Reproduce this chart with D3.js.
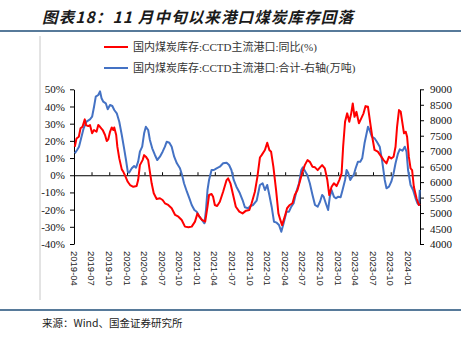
<!DOCTYPE html>
<html>
<head>
<meta charset="utf-8">
<title>港口煤炭库存</title>
<style>
    body { margin: 0; padding: 0; background: #fff; }
    svg { display: block; }
</style>
</head>
<body>
<div id="chart"></div>
<script src="https://d3js.org/d3.v7.min.js"></script>
<script>
// 国内煤炭库存:CCTD主流港口:同比(%)
const yoyData = [
    ["2019-04-05",16.6],["2019-04-14",21.4],["2019-04-26",22.4],["2019-05-05",27.3],["2019-05-15",28.2],
    ["2019-05-27",32.5],["2019-06-02",29.2],["2019-06-14",28.6],["2019-06-23",29.2],["2019-07-04",24.4],
    ["2019-07-14",26.3],["2019-07-27",25.3],["2019-08-05",29.2],["2019-08-14",28.2],["2019-08-28",26.3],
    ["2019-09-09",23.4],["2019-09-18",19.9],["2019-09-26",20.9],["2019-10-05",25.3],["2019-10-14",27.8],
    ["2019-10-22",26.3],["2019-10-27",27.8],["2019-11-06",23.4],["2019-11-12",16.6],["2019-11-22",9.8],
    ["2019-12-05",3.4],["2019-12-13",2.0],["2019-12-25",-0.9],["2020-01-05",-3.8],["2020-01-17",-5.7],
    ["2020-02-03",-6.7],["2020-02-20",-6.3],["2020-02-28",-2.8],["2020-03-08",5.9],["2020-03-22",8.8],
    ["2020-03-30",11.7],["2020-04-08",10.8],["2020-04-20",8.8],["2020-04-29",2.0],["2020-05-08",-4.7],
    ["2020-05-19",-10.5],["2020-06-03",-13.8],["2020-06-20",-13.4],["2020-07-04",-14.4],["2020-07-16",-16.3],
    ["2020-08-02",-17.3],["2020-08-20",-19.2],["2020-09-07",-23.1],["2020-09-24",-24.1],["2020-10-11",-26.0],
    ["2020-10-28",-29.9],["2020-11-15",-30.3],["2020-12-02",-29.9],["2020-12-19",-27.0],["2021-01-01",-22.2],
    ["2021-01-11",-24.1],["2021-01-24",-26.0],["2021-02-10",-27.0],["2021-02-22",-18.3],["2021-03-02",-11.5],
    ["2021-03-15",-10.9],["2021-03-23",-12.5],["2021-04-01",-17.3],["2021-04-13",-17.9],["2021-04-27",-15.4],
    ["2021-05-14",-9.6],["2021-06-01",-2.8],["2021-06-09",-1.8],["2021-06-21",-4.7],["2021-07-05",-11.5],
    ["2021-07-19",-18.3],["2021-08-06",-21.2],["2021-08-23",-22.2],["2021-09-10",-20.6],["2021-09-27",-20.2],
    ["2021-10-09",-16.3],["2021-10-26",-9.6],["2021-11-08",-0.9],["2021-11-21",10.3],["2021-11-30",11.7],
    ["2021-12-17",14.7],["2021-12-29",18.9],["2022-01-09",14.7],["2022-01-18",13.7],["2022-01-30",4.9],
    ["2022-02-13",-8.6],["2022-02-25",-22.2],["2022-03-07",-26.0],["2022-03-16",-29.0],["2022-03-30",-24.1],
    ["2022-04-11",-19.2],["2022-04-25",-17.3],["2022-05-09",-16.3],["2022-05-21",-11.5],["2022-06-04",-8.6],
    ["2022-06-16",-3.8],["2022-06-30",2.0],["2022-07-12",5.9],["2022-07-26",8.8],["2022-08-07",7.8],
    ["2022-08-21",4.9],["2022-09-03",4.6],["2022-09-17",3.0],["2022-09-29",4.6],["2022-10-10",5.9],
    ["2022-10-24",4.0],["2022-11-06",-2.8],["2022-11-16",-11.5],["2022-11-28",-6.7],["2022-12-10",-4.7],
    ["2022-12-24",-6.3],["2023-01-07",-2.8],["2023-01-19",1.1],["2023-01-27",16.6],["2023-02-06",31.1],
    ["2023-02-17",36.0],["2023-02-28",31.1],["2023-03-10",36.0],["2023-03-18",41.8],["2023-03-27",34.0],
    ["2023-04-06",36.9],["2023-04-19",30.2],["2023-05-01",33.1],["2023-05-13",36.0],["2023-05-23",40.2],
    ["2023-06-05",39.8],["2023-06-17",30.2],["2023-06-27",22.4],["2023-07-09",14.7],["2023-07-26",13.7],
    ["2023-08-13",10.8],["2023-08-25",8.8],["2023-09-09",6.9],["2023-09-22",10.8],["2023-10-04",9.8],
    ["2023-10-16",10.8],["2023-10-26",16.6],["2023-11-03",28.2],["2023-11-13",37.9],["2023-11-22",36.9],
    ["2023-12-01",30.2],["2023-12-09",24.4],["2023-12-18",25.3],["2023-12-25",22.4],["2024-01-03",10.8],
    ["2024-01-12",4.0],["2024-01-20",3.0],["2024-01-29",-6.7],["2024-02-12",-13.4],["2024-02-24",-17.3],
    ["2024-02-29",-16.5]
];

// 国内煤炭库存:CCTD主流港口:合计-右轴(万吨)
const stockData = [
    ["2019-04-05",6931],["2019-04-17",7038],["2019-04-27",7145],["2019-05-10",7468],["2019-05-21",7740],
    ["2019-06-05",7953],["2019-06-23",8030],["2019-07-04",8114],["2019-07-14",8438],["2019-07-23",8761],
    ["2019-08-05",8816],["2019-08-14",8935],["2019-08-22",8709],["2019-08-31",8600],["2019-09-13",8548],
    ["2019-09-23",8354],["2019-10-05",8493],["2019-10-17",8460],["2019-10-27",8331],["2019-11-09",8224],
    ["2019-11-22",7953],["2019-12-05",7523],["2019-12-17",7093],["2019-12-27",6715],["2020-01-05",6337],
    ["2020-01-12",6305],["2020-01-26",6447],["2020-02-07",6521],["2020-02-17",6466],["2020-02-28",6660],
    ["2020-03-08",6983],["2020-03-20",7145],["2020-03-30",7578],["2020-04-08",7791],["2020-04-20",7685],
    ["2020-04-29",7361],["2020-05-11",7093],["2020-05-25",6877],["2020-06-06",6715],["2020-06-20",6822],
    ["2020-07-04",6983],["2020-07-16",7145],["2020-07-25",7306],["2020-08-08",7274],["2020-08-20",7145],
    ["2020-09-02",6822],["2020-09-16",6608],["2020-10-02",6447],["2020-10-13",6230],["2020-10-23",5962],
    ["2020-11-07",5690],["2020-11-20",5477],["2020-12-02",5261],["2020-12-16",5099],["2020-12-28",5044],
    ["2021-01-11",4882],["2021-01-24",4776],["2021-02-06",4669],["2021-02-14",5099],["2021-02-22",5745],
    ["2021-03-02",6069],["2021-03-15",6392],["2021-03-27",6392],["2021-04-10",6447],["2021-04-27",6499],
    ["2021-05-14",6608],["2021-06-01",6628],["2021-06-14",6553],["2021-06-26",6392],["2021-07-08",6069],
    ["2021-07-22",5852],["2021-08-09",5639],["2021-08-23",5422],["2021-09-04",5186],["2021-09-21",5154],
    ["2021-10-03",5229],["2021-10-17",5261],["2021-11-04",5400],["2021-11-21",5907],["2021-12-05",5962],
    ["2021-12-17",5745],["2021-12-29",5907],["2022-01-09",5584],["2022-01-21",5206],["2022-02-02",4721],
    ["2022-02-16",4689],["2022-02-28",4614],["2022-03-12",4398],["2022-03-24",4669],["2022-04-08",5044],
    ["2022-04-21",5044],["2022-05-03",5206],["2022-05-15",5316],["2022-05-29",5690],["2022-06-12",5962],
    ["2022-06-24",6392],["2022-07-02",6479],["2022-07-15",6337],["2022-07-25",6230],["2022-08-07",5962],
    ["2022-08-21",5584],["2022-09-03",5261],["2022-09-17",5206],["2022-09-29",5367],["2022-10-10",5584],
    ["2022-10-18",5529],["2022-10-29",5316],["2022-11-10",5099],["2022-11-19",5529],["2022-11-28",5745],
    ["2022-12-10",5529],["2022-12-20",5477],["2023-01-02",5529],["2023-01-14",5510],["2023-01-24",5745],
    ["2023-02-06",6069],["2023-02-14",6392],["2023-02-23",6285],["2023-03-05",6069],["2023-03-15",6175],
    ["2023-03-23",6230],["2023-04-02",6447],["2023-04-14",6660],["2023-04-26",6660],["2023-05-06",6770],
    ["2023-05-18",7255],["2023-05-27",7523],["2023-06-05",7791],["2023-06-13",7685],["2023-06-25",7468],
    ["2023-07-09",7416],["2023-07-21",7306],["2023-08-05",7145],["2023-08-18",6660],["2023-08-31",6069],
    ["2023-09-09",5800],["2023-09-22",5852],["2023-10-04",6014],["2023-10-16",6285],["2023-10-26",6608],
    ["2023-11-08",6931],["2023-11-17",7061],["2023-12-01",7016],["2023-12-13",7145],["2023-12-22",6983],
    ["2023-12-30",6392],["2024-01-12",5907],["2024-01-25",5745],["2024-02-07",5477],["2024-02-17",5316],
    ["2024-02-25",5261],["2024-02-29",5750]
];

const leftTicks = [-40, -30, -20, -10, 0, 10, 20, 30, 40, 50];
const rightTicks = [4000, 4500, 5000, 5500, 6000, 6500, 7000, 7500, 8000, 8500, 9000];
const legendLabels = ["国内煤炭库存:CCTD主流港口:同比(%)", "国内煤炭库存:CCTD主流港口:合计-右轴(万吨)"];
const titleText = "图表18：11 月中旬以来港口煤炭库存回落";
const sourceText = "来源：Wind、国金证券研究所";

const W = 471, H = 337;
const plot = { left: 74, right: 420, top: 89.3, bottom: 244 };
const colors = { red: "#ff0000", blue: "#4472c4", rule: "#1f4e79" };
const parse = d3.timeParse("%Y-%m-%d");

const svg = d3.select("#chart").append("svg")
    .attr("width", W)
    .attr("height", H);

// title and rules
svg.append("text")
    .attr("x", 42).attr("y", 23)
    .attr("font-family", "'Noto Sans CJK SC', sans-serif")
    .attr("font-size", 15.5)
    .attr("font-weight", "bold")
    .attr("font-style", "italic")
    .attr("fill", "#1a1a1a")
    .attr("textLength", 311)
    .attr("lengthAdjust", "spacing")
    .text(titleText);

svg.append("line").attr("x1", 0).attr("x2", 461).attr("y1", 31).attr("y2", 31)
    .attr("stroke", colors.rule).attr("stroke-width", 1.5);
svg.append("line").attr("x1", 0).attr("x2", 461).attr("y1", 310).attr("y2", 310)
    .attr("stroke", colors.rule).attr("stroke-width", 1.5);
svg.append("line").attr("x1", 40).attr("x2", 40).attr("y1", 36).attr("y2", 300)
    .attr("stroke", "#c8c8c8").attr("stroke-width", 1);

svg.append("text")
    .attr("x", 42).attr("y", 327)
    .attr("font-family", "'Noto Sans CJK SC', sans-serif")
    .attr("font-size", 10.5)
    .attr("fill", "#222")
    .text(sourceText);

// scales
const x = d3.scaleTime()
    .domain([parse("2019-04-01"), parse("2024-03-01")])
    .range([plot.left, plot.right]);
const yL = d3.scaleLinear().domain([-40, 50]).range([plot.bottom, plot.top]);
const yR = d3.scaleLinear().domain([4000, 9000]).range([plot.bottom, plot.top]);

// axes
const serif = "'Liberation Serif', 'Times New Roman', serif";

const gL = svg.append("g")
    .attr("transform", `translate(${plot.left},0)`)
    .call(d3.axisLeft(yL).tickValues(leftTicks).tickSize(4).tickSizeOuter(0).tickPadding(5)
        .tickFormat(d => d + "%"));
const gR = svg.append("g")
    .attr("transform", `translate(${plot.right},0)`)
    .call(d3.axisRight(yR).tickValues(rightTicks).tickSize(4).tickSizeOuter(0).tickPadding(6)
        .tickFormat(d3.format("d")));

[gL, gR].forEach(g => {
    g.selectAll("text").attr("font-family", serif).attr("font-size", 11).attr("fill", "#111");
    g.selectAll("line, path").attr("stroke", "#000");
});

const quarters = x.ticks(d3.timeMonth.every(3));

const gZero = svg.append("g")
    .attr("transform", `translate(0,${yL(0)})`)
    .call(d3.axisTop(x).tickValues(quarters).tickSize(3).tickSizeOuter(0).tickFormat(""));
gZero.selectAll("line, path").attr("stroke", "#000");

const fmt = d3.timeFormat("%Y-%m");
svg.append("g").selectAll("text")
    .data(quarters)
    .join("text")
    .attr("transform", d => `translate(${x(d)},${plot.bottom + 7}) rotate(90)`)
    .attr("dy", "0.35em")
    .attr("font-family", "'Liberation Sans', Arial, sans-serif")
    .attr("font-size", 9.5)
    .attr("fill", "#222")
    .text(d => fmt(d));

// lines
const lineL = d3.line().x(d => x(parse(d[0]))).y(d => yL(d[1]));
const lineR = d3.line().x(d => x(parse(d[0]))).y(d => yR(d[1]));

svg.append("path").datum(stockData)
    .attr("d", lineR)
    .attr("fill", "none")
    .attr("stroke", colors.blue)
    .attr("stroke-width", 2)
    .attr("stroke-linejoin", "round");

svg.append("path").datum(yoyData)
    .attr("d", lineL)
    .attr("fill", "none")
    .attr("stroke", colors.red)
    .attr("stroke-width", 2)
    .attr("stroke-linejoin", "round");

// legend
const legend = svg.append("g");
[colors.red, colors.blue].forEach((c, i) => {
    const yy = 47 + i * 21;
    legend.append("line")
        .attr("x1", 104).attr("x2", 128).attr("y1", yy).attr("y2", yy)
        .attr("stroke", c).attr("stroke-width", 2);
    legend.append("text")
        .attr("x", 133).attr("y", yy)
        .attr("dy", "0.35em")
        .attr("font-family", serif + ", 'Noto Sans CJK SC'")
        .attr("font-size", 11)
        .attr("fill", "#333")
        .text(legendLabels[i]);
});
</script>
</body>
</html>
